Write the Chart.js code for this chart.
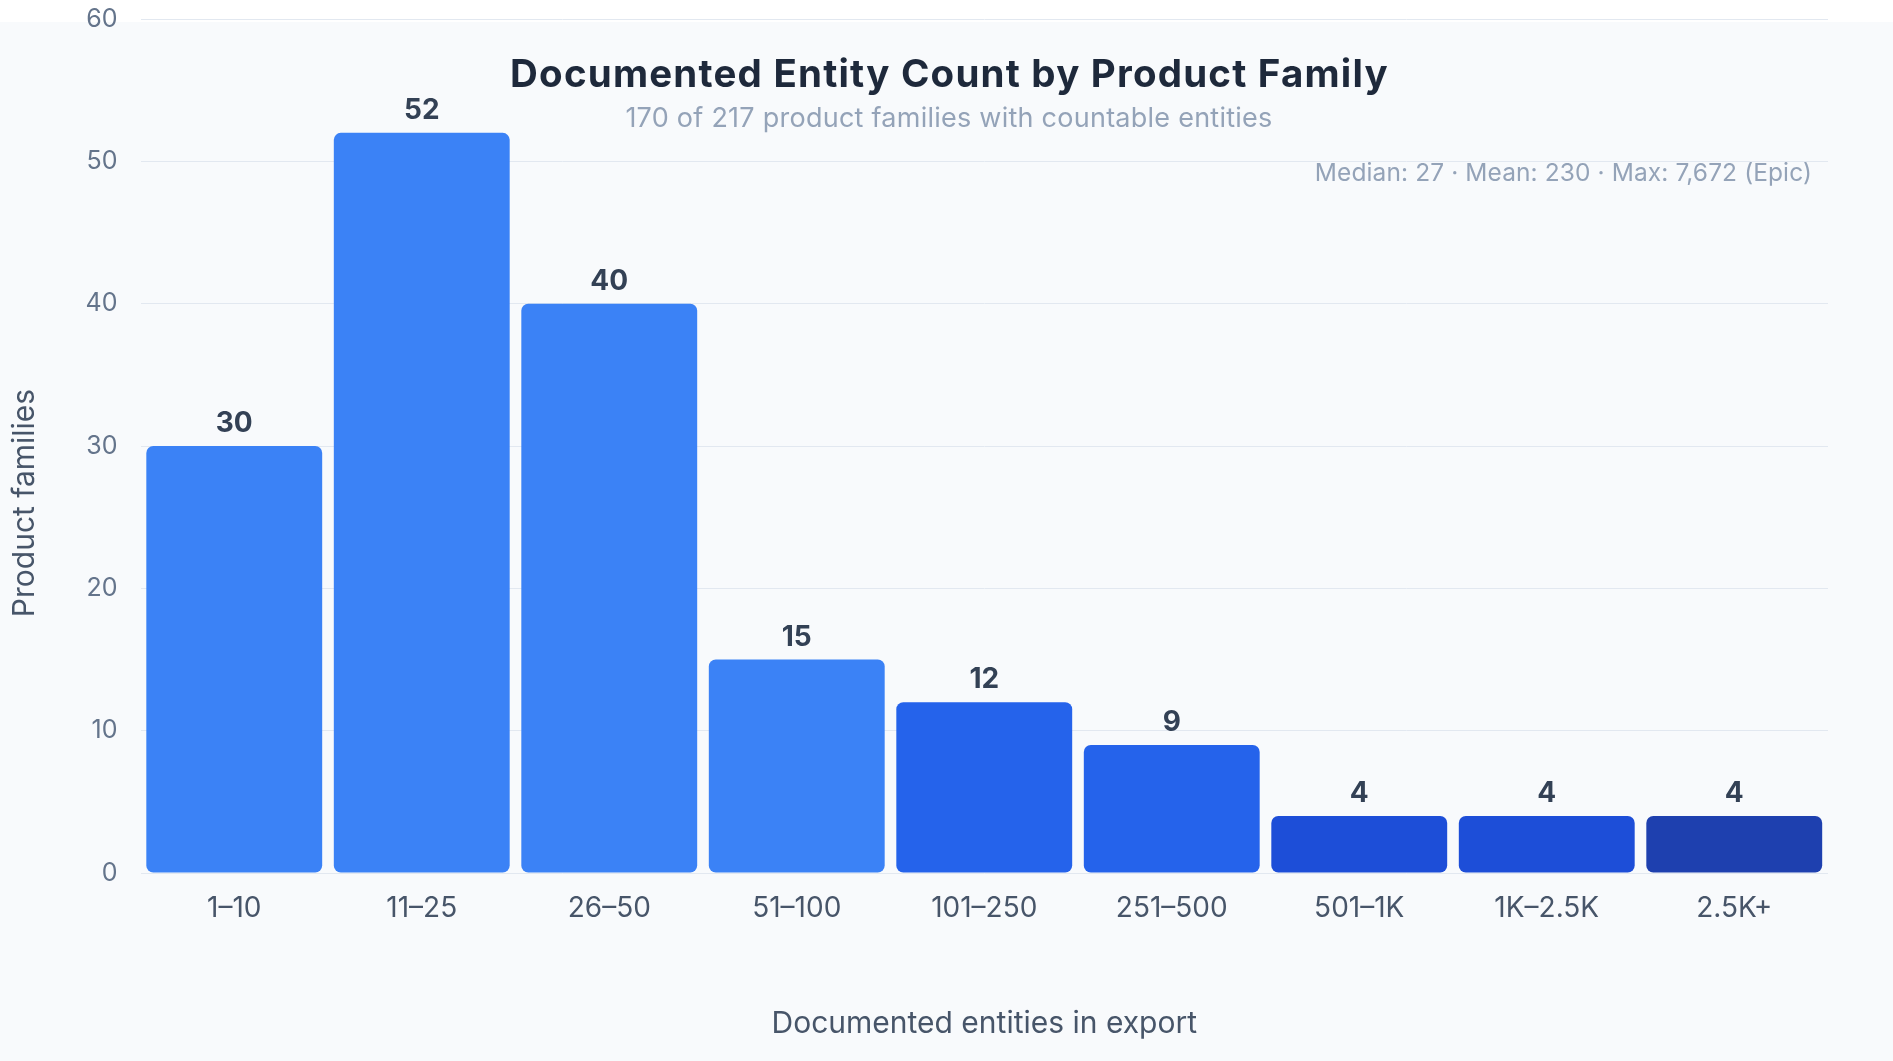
<!DOCTYPE html>
<html>
<head>
<meta charset="utf-8">
<script src="https://cdn.jsdelivr.net/npm/chart.js@4"></script>
<style>
  html, body { margin: 0; padding: 0; background: #ffffff; width: 1893px; height: 1061px; overflow: hidden; }
  #bg { position: absolute; left: 0; top: 22px; width: 1893px; height: 1039px; background: #f8fafc; }
  #wrap { position: absolute; left: 0; top: 0; width: 1893px; height: 1061px; }
  .t { position: absolute; font-family: Inter, "Noto Sans", sans-serif; white-space: nowrap; }
  #title { left: 0; width: 1899px; text-align: center; top: 54.1px; font-size: 38.5px; line-height: 38.5px; font-weight: 700; color: #1e293b; letter-spacing: 1.2px; }
  #subtitle { left: 0; width: 1898px; text-align: center; top: 104px; font-size: 27px; line-height: 27px; color: #94a3b8; letter-spacing: 0.25px; }
  #stats { right: 81px; top: 160.4px; font-size: 24.5px; line-height: 24.5px; color: #94a3b8; letter-spacing: 0.1px; }
  #xtitle { left: 0; width: 1968.6px; text-align: center; top: 1007.4px; font-size: 30px; line-height: 30px; color: #475569; }
  #ytitle { left: -177.2px; width: 400px; text-align: center; top: 487.8px; font-size: 30px; line-height: 30px; color: #475569; transform: rotate(-90deg); transform-origin: 200px 15px; }
</style>
</head>
<body>
<div id="bg"></div>
<div id="wrap"><canvas id="c" width="1893" height="1061"></canvas></div>
<div class="t" id="title"></div>
<div class="t" id="subtitle"></div>
<div class="t" id="stats"></div>
<div class="t" id="xtitle"></div>
<div class="t" id="ytitle"></div>
<script>
const categories = ['1–10', '11–25', '26–50', '51–100', '101–250', '251–500', '501–1K', '1K–2.5K', '2.5K+'];
const familyCounts = [30, 52, 40, 15, 12, 9, 4, 4, 4];
const barColors = ['#3b82f6', '#3b82f6', '#3b82f6', '#3b82f6', '#2563eb', '#2563eb', '#1d4ed8', '#1d4ed8', '#1e40af'];
const yTicks = [0, 10, 20, 30, 40, 50, 60];
const titleText = 'Documented Entity Count by Product Family';
const subtitleText = '170 of 217 product families with countable entities';
const statsText = 'Median: 27 · Mean: 230 · Max: 7,672 (Epic)';
const xTitle = 'Documented entities in export';
const yTitle = 'Product families';

document.getElementById('title').textContent = titleText;
document.getElementById('subtitle').textContent = subtitleText;
document.getElementById('stats').textContent = statsText;
document.getElementById('xtitle').textContent = xTitle;
document.getElementById('ytitle').textContent = yTitle;

const FONT = 'Inter, "Noto Sans", sans-serif';

const valueLabelPlugin = {
  id: 'valueLabels',
  afterDatasetsDraw(chart) {
    const ctx = chart.ctx;
    const meta = chart.getDatasetMeta(0);
    ctx.save();
    ctx.fillStyle = '#334155';
    ctx.font = 'bold 28px ' + FONT;
    ctx.textAlign = 'center';
    ctx.textBaseline = 'alphabetic';
    meta.data.forEach((bar, i) => {
      ctx.fillText(String(familyCounts[i]), bar.x, bar.y - 14);
    });
    ctx.restore();
  }
};

new Chart(document.getElementById('c'), {
  type: 'bar',
  data: {
    labels: categories,
    datasets: [{
      data: familyCounts,
      backgroundColor: barColors,
      borderRadius: 7,
      borderSkipped: false,
      categoryPercentage: 1.0,
      barPercentage: 0.938
    }]
  },
  options: {
    responsive: false,
    animation: false,
    devicePixelRatio: 1,
    layout: { padding: { top: 19, right: 65, bottom: 0, left: 0 } },
    plugins: {
      legend: { display: false },
      tooltip: { enabled: false },
      title: { display: false }
    },
    scales: {
      x: {
        grid: { display: false, drawTicks: false },
        border: { display: false },
        ticks: {
          color: '#475569',
          font: { family: FONT, size: 28 },
          padding: 19,
          maxRotation: 0
        },
        afterFit(scale) { scale.height = 188; scale.paddingLeft = 0; scale.paddingRight = 0; }
      },
      y: {
        min: 0,
        max: 60,
        afterBuildTicks(scale) { scale.ticks = yTicks.map(v => ({ value: v })); },
        grid: { color: '#e2e8f0', lineWidth: 1, drawTicks: false },
        border: { display: false },
        ticks: {
          color: '#64748b',
          font: { family: FONT, size: 25 },
          padding: 23
        },
        afterFit(scale) { scale.width = 140.5; scale.paddingTop = 0; scale.paddingBottom = 0; }
      }
    }
  },
  plugins: [valueLabelPlugin]
});
</script>
</body>
</html>
